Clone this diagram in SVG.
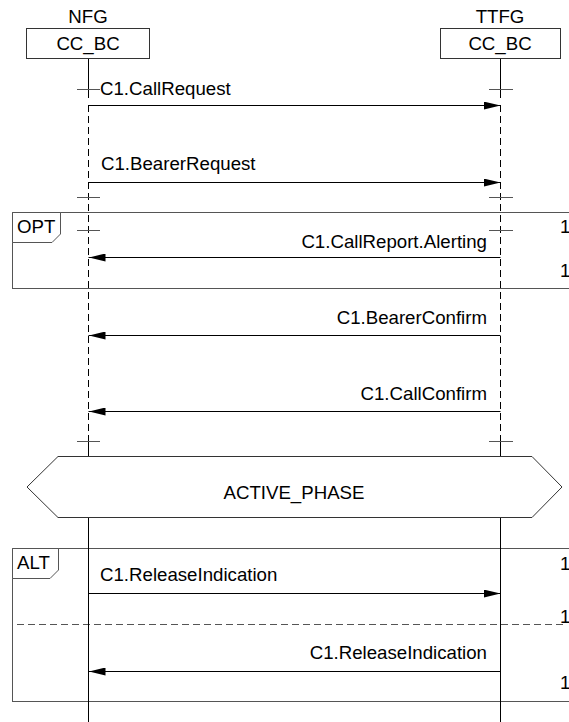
<svg xmlns="http://www.w3.org/2000/svg" width="569" height="722" viewBox="0 0 569 722">
<style>
text{font-family:"Liberation Sans",Arial,sans-serif;font-size:18.67px;fill:#000}
.box{fill:#fff;stroke:#333;stroke-width:1}
.frame{fill:none;stroke:#555;stroke-width:1}
.tab{fill:#fff;stroke:#555;stroke-width:1}
.life{stroke:#000;stroke-width:1;fill:none}
.dash{stroke:#000;stroke-width:1;stroke-dasharray:7,4;fill:none}
.tick{stroke:#555;stroke-width:1}
.msg{stroke:#000;stroke-width:1;fill:none}
.sep{stroke:#555;stroke-width:1;stroke-dasharray:7,4}
.end{text-anchor:end}
.mid{text-anchor:middle}
</style>
<defs>
<marker id="ah" viewBox="0 0 17 8" refX="17" refY="4" markerWidth="17" markerHeight="8" markerUnits="userSpaceOnUse" orient="auto">
<path d="M0,0 L17,4 L0,8 Z" fill="#000"/>
</marker>
</defs>

<g id="frame-opt">
<rect class="frame" x="12.5" y="212.5" width="580" height="76"/>
<path class="tab" d="M12.5,212.5 H60.5 V234 L52,242.5 H12.5 Z"/>
<text x="17" y="233">OPT</text>
<text x="560" y="233">1</text>
<text x="560" y="277">1</text>
</g>

<g id="frame-alt">
<rect class="frame" x="12.5" y="548.5" width="580" height="153"/>
<path class="tab" d="M12.5,548.5 H58.5 V570 L50,578.5 H12.5 Z"/>
<text x="17" y="569">ALT</text>
<line class="sep" x1="17" y1="624.5" x2="563" y2="624.5"/>
<text x="560" y="570">1</text>
<text x="560" y="623">1</text>
<text x="560" y="689">1</text>
</g>

<g id="lifelines">
<line class="life" x1="88.5" y1="59" x2="88.5" y2="98"/>
<line class="dash" x1="88.5" y1="105" x2="88.5" y2="441"/>
<line class="life" x1="88.5" y1="441" x2="88.5" y2="456"/>
<line class="life" x1="88.5" y1="517" x2="88.5" y2="722"/>
<line class="life" x1="500.5" y1="59" x2="500.5" y2="98"/>
<line class="dash" x1="500.5" y1="105" x2="500.5" y2="441"/>
<line class="life" x1="500.5" y1="441" x2="500.5" y2="456"/>
<line class="life" x1="500.5" y1="517" x2="500.5" y2="722"/>
</g>

<g id="ticks">
<line class="tick" x1="77" y1="89.5" x2="100" y2="89.5"/>
<line class="tick" x1="489" y1="89.5" x2="513" y2="89.5"/>
<line class="tick" x1="77" y1="197.5" x2="100" y2="197.5"/>
<line class="tick" x1="489" y1="197.5" x2="513" y2="197.5"/>
<line class="tick" x1="77" y1="230.5" x2="100" y2="230.5"/>
<line class="tick" x1="489" y1="230.5" x2="513" y2="230.5"/>
<line class="tick" x1="77" y1="441.5" x2="100" y2="441.5"/>
<line class="tick" x1="489" y1="441.5" x2="513" y2="441.5"/>
</g>

<g id="NFG">
<text class="mid" x="88" y="23">NFG</text>
<rect class="box" x="26.5" y="28.5" width="123" height="30"/>
<text class="mid" x="88" y="50">CC_BC</text>
</g>

<g id="TTFG">
<text class="mid" x="500" y="23">TTFG</text>
<rect class="box" x="440.5" y="28.5" width="120" height="30"/>
<text class="mid" x="500" y="50">CC_BC</text>
</g>

<g id="ACTIVE_PHASE">
<polygon class="box" points="27,487 58,456.5 532,456.5 562,487 532,517.5 58,517.5"/>
<text class="mid" x="294" y="499">ACTIVE_PHASE</text>
</g>

<g id="connectors">
<line class="msg" x1="88.5" y1="105.5" x2="500.5" y2="105.5" marker-end="url(#ah)"/>
<text x="100" y="95">C1.CallRequest</text>
<line class="msg" x1="88.5" y1="182.5" x2="500.5" y2="182.5" marker-end="url(#ah)"/>
<text x="101" y="170">C1.BearerRequest</text>
<line class="msg" x1="500.5" y1="257.5" x2="88.5" y2="257.5" marker-end="url(#ah)"/>
<text class="end" x="487" y="248">C1.CallReport.Alerting</text>
<line class="msg" x1="500.5" y1="335.5" x2="88.5" y2="335.5" marker-end="url(#ah)"/>
<text class="end" x="487" y="324">C1.BearerConfirm</text>
<line class="msg" x1="500.5" y1="411.5" x2="88.5" y2="411.5" marker-end="url(#ah)"/>
<text class="end" x="487" y="400">C1.CallConfirm</text>
<line class="msg" x1="88.5" y1="593.5" x2="500.5" y2="593.5" marker-end="url(#ah)"/>
<text x="100" y="581">C1.ReleaseIndication</text>
<line class="msg" x1="500.5" y1="671.5" x2="88.5" y2="671.5" marker-end="url(#ah)"/>
<text class="end" x="487" y="659">C1.ReleaseIndication</text>
</g>
</svg>
